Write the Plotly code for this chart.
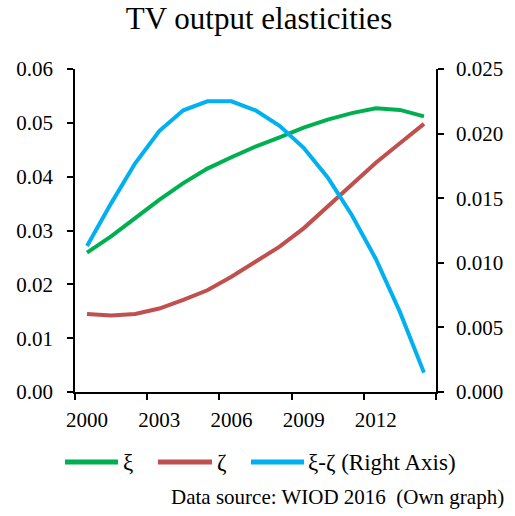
import plotly.graph_objects as go

# Years and series values
years = list(range(2000, 2015))
xi = [0.0259, 0.0289, 0.0323, 0.0357, 0.0388, 0.0415, 0.0436, 0.0456,
      0.0473, 0.0491, 0.0506, 0.0518, 0.0527, 0.0524, 0.0512]
zeta = [0.0145, 0.0142, 0.0145, 0.0155, 0.0171, 0.0189, 0.0214, 0.0241,
        0.0270, 0.0304, 0.0344, 0.0385, 0.0426, 0.0462, 0.0498]
xi_minus_zeta = [0.0113, 0.0146, 0.0177, 0.0202, 0.0218, 0.0225, 0.0225, 0.0218,
                 0.0206, 0.0189, 0.0166, 0.0137, 0.0103, 0.0062, 0.0015]

x_tick_labels = ["2000", "2003", "2006", "2009", "2012"]
x_tick_vals = [2000, 2003, 2006, 2009, 2012]
x_bounds = [1999.5, 2002.5, 2005.5, 2008.5, 2011.5, 2014.5]

names = ["ξ", "ζ", "ξ-ζ (Right Axis)"]
colors = ["#00B050", "#C0504D", "#00B0F0"]

FONT = "Liberation Serif, Times New Roman, serif"
LW = 4

fig = go.Figure()
fig.add_trace(go.Scatter(x=years, y=xi, mode="lines", name=names[0],
                         line=dict(color=colors[0], width=LW), showlegend=False))
fig.add_trace(go.Scatter(x=years, y=zeta, mode="lines", name=names[1],
                         line=dict(color=colors[1], width=LW), showlegend=False))
fig.add_trace(go.Scatter(x=years, y=xi_minus_zeta, mode="lines", name=names[2],
                         line=dict(color=colors[2], width=LW), yaxis="y2",
                         showlegend=False))

W, H = 515, 516
ml, mr, mt, mb = 75, 79, 69, 124

fig.update_layout(
    width=W, height=H,
    margin=dict(l=ml, r=mr, t=mt, b=mb),
    paper_bgcolor="white", plot_bgcolor="white",
    font=dict(family=FONT, size=21, color="black"),
    title=dict(text="TV output elasticities", x=0.503, xref="container",
               xanchor="center", y=1 - 18 / H, yanchor="middle",
               font=dict(family=FONT, size=31, color="black")),
    xaxis=dict(range=[1999.5, 2014.5], tickmode="array", tickvals=x_tick_vals,
               ticktext=x_tick_labels, ticks="", showgrid=False, zeroline=False,
               showline=True, linecolor="black", linewidth=1.5,
               ticklabelstandoff=8,
               minor=dict(tickmode="array", tickvals=x_bounds, ticks="outside",
                          ticklen=6, tickwidth=1.5, tickcolor="black",
                          showgrid=False)),
    yaxis=dict(range=[0, 0.06], dtick=0.01, tick0=0, tickformat=".2f",
               ticks="outside", ticklen=6, tickwidth=1.5, tickcolor="black",
               showline=True, linecolor="black", linewidth=1.5,
               showgrid=False, zeroline=False, ticklabelstandoff=10),
    yaxis2=dict(range=[0, 0.025], dtick=0.005, tick0=0, tickformat=".3f",
                overlaying="y", side="right", anchor="x",
                ticks="outside", ticklen=6, tickwidth=1.5, tickcolor="black",
                showline=True, linecolor="black", linewidth=1.5,
                showgrid=False, zeroline=False, ticklabelstandoff=8),
)

# Legend row drawn below the plot area
legend_items = [(65, 118, 121), (158, 212, 215), (251, 304, 306)]
for (x0, x1, xt), name, color in zip(legend_items, names, colors):
    fig.add_shape(type="line", xref="paper", yref="paper",
                  x0=(x0 - ml) / (W - ml - mr), x1=(x1 - ml) / (W - ml - mr),
                  y0=(H - 462 - mb) / (H - mt - mb), y1=(H - 462 - mb) / (H - mt - mb),
                  line=dict(color=color, width=LW + 1))
    fig.add_annotation(text=name, xref="paper", yref="paper",
                       x=(xt - ml) / (W - ml - mr), xanchor="left",
                       y=(H - 462 - mb) / (H - mt - mb), yanchor="middle",
                       showarrow=False, font=dict(family=FONT, size=23))

fig.add_annotation(text="Data source: WIOD 2016  (Own graph)",
                   xref="paper", yref="paper",
                   x=(506 - ml) / (W - ml - mr), xanchor="right",
                   y=(H - 497 - mb) / (H - mt - mb), yanchor="middle",
                   showarrow=False, font=dict(family=FONT, size=21))

fig.write_html("out.html")
